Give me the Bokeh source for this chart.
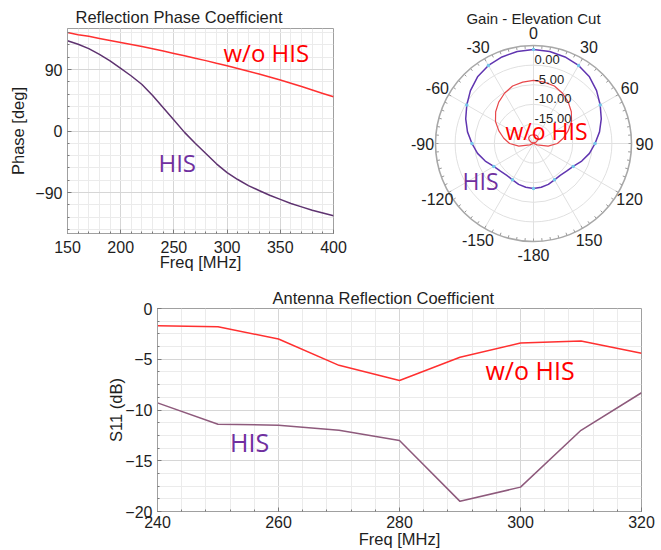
import numpy as np
from bokeh.plotting import figure
from bokeh.models import Range1d, SingleIntervalTicker, Label, ColumnDataSource
from bokeh.layouts import column, row
from bokeh.core.properties import value
from bokeh.embed import file_html
from bokeh.resources import INLINE

# ---------------- data ----------------
phase_freq = [150, 160, 170, 180, 190, 200, 210, 220, 230, 240, 250, 260, 270,
              280, 290, 300, 310, 320, 330, 340, 350, 360, 370, 380, 390, 400]
phase_wo_his = [144, 141, 138.5, 135.5, 132.5, 129.5, 126.5, 123.5, 120.5, 117,
                113.5, 110, 106.5, 103, 99, 95.5, 91.5, 87.5, 83.5, 79,
                74.5, 70, 65, 60, 55, 50]
phase_his = [132, 127, 120.5, 112, 102.5, 91.5, 80.5, 68, 52, 34,
             16, -2, -18, -33, -48, -61, -71, -80, -87, -94,
             -100, -106, -111, -116, -120, -124]

s11_freq = [240, 250, 260, 270, 280, 290, 300, 310, 320]
s11_wo_his = [-1.7, -1.8, -3.0, -5.6, -7.1, -4.8, -3.4, -3.2, -4.4]
s11_his = [-9.3, -11.4, -11.5, -12.0, -13.0, -19.0, -17.6, -12.0, -8.3]

gain_angle = [-180, -170, -160, -150, -140, -130, -120, -110, -100, -90, -80, -70,
              -60, -50, -40, -30, -20, -10, 0, 10, 20, 30, 40, 50, 60, 70, 80, 90,
              100, 110, 120, 130, 140, 150, 160, 170, 180]
gain_his = [-8.5, -8.65, -8.9, -9.3, -9.4, -9.0, -8.3, -6.9, -5.5, -4.3, -2.9, -1.6,
            -0.35, 1.0, 2.2, 3.0, 3.5, 3.85, 4.0, 3.85, 3.5, 3.0, 2.2, 1.0, -0.35,
            -1.6, -2.9, -4.3, -5.5, -6.9, -8.3, -9.0, -9.4, -9.3, -8.9, -8.65, -8.5]
gain_wo_his = [-22.2, -22.2, -22.2, -22.1, -21.9, -21.5, -20.8, -19.0, -16.2, -13.9,
               -12.3, -10.6, -8.8, -7.4, -6.2, -5.2, -4.4, -4.1, -3.9, -4.1, -4.4,
               -5.2, -6.2, -7.4, -8.8, -10.6, -12.3, -13.9, -16.2, -19.0, -20.8,
               -21.5, -21.9, -22.1, -22.2, -22.2, -22.2]
gain_marker_angle = [-180, -150, -120, -90, -60, -30, 0, 30, 60, 90, 120, 150]
gain_marker_his = [-8.5, -9.3, -8.3, -4.3, -0.35, 3.0, 4.0, 3.0, -0.35, -4.3, -8.3, -9.3]
polar_floor = -20.0
polar_top = 5.0
polar_rings = [-15, -10, -5, 0]
polar_ring_labels = ["-15.00", "-10.00", "-5.00", "0.00"]
polar_angle_ticks = [0, 30, 60, 90, 120, 150, 180, -150, -120, -90, -60, -30]
polar_angle_labels = ["0", "30", "60", "90", "120", "150", "-180", "-150", "-120",
                      "-90", "-60", "-30"]

# ---------------- styles ----------------
AX_FONT = "Liberation Sans"
AN_FONT = "Open Sans"
TXT = "#1e1e1e"
RED_LINE = "#ff3030"
RED_TXT = "#ff0000"
PURPLE_TXT = "#7030a0"
GRID = "#d6d6d6"
MINOR = "#ebebeb"
FRAME = "#a0a0a0"


def style_axes(p, xint, xminor, yint, yminor, title, title_offset, title_standoff,
               xlabel, ylabel, x_standoff, xlabel_standoff, ylabel_standoff):
    xt = SingleIntervalTicker(interval=xint, num_minor_ticks=xminor)
    yt = SingleIntervalTicker(interval=yint, num_minor_ticks=yminor)
    p.xaxis.ticker = xt
    p.yaxis.ticker = yt
    p.xgrid.ticker = xt
    p.ygrid.ticker = yt
    for ax in (p.xaxis, p.yaxis):
        ax.axis_line_color = FRAME
        ax.major_tick_in = 4
        ax.major_tick_out = 0
        ax.minor_tick_in = 2
        ax.minor_tick_out = 0
        ax.major_tick_line_color = "#7a7a7a"
        ax.minor_tick_line_color = "#7a7a7a"
        ax.major_label_text_font = AX_FONT
        ax.major_label_text_font_size = "16px"
        ax.major_label_text_color = TXT
        ax.axis_label_text_font = AX_FONT
        ax.axis_label_text_font_size = "16.5px"
        ax.axis_label_text_font_style = "normal"
        ax.axis_label_text_color = TXT
    p.xaxis.major_label_standoff = x_standoff
    p.yaxis.major_label_standoff = 5
    p.xaxis.axis_label = xlabel
    p.yaxis.axis_label = ylabel
    p.xaxis.axis_label_standoff = xlabel_standoff
    p.yaxis.axis_label_standoff = ylabel_standoff
    p.grid.grid_line_color = GRID
    p.grid.minor_grid_line_color = MINOR
    p.outline_line_color = FRAME
    p.title.text = title
    p.title.align = "left"
    p.title.offset = title_offset
    p.title.standoff = title_standoff
    p.title.text_font = AX_FONT
    p.title.text_font_size = "16.5px"
    p.title.text_font_style = "normal"
    p.title.text_color = TXT


def txt(p, x, y, text, size, color=TXT, font=AX_FONT, align="left",
        baseline="middle"):
    p.add_layout(Label(x=x, y=y, text=text, text_font=font, text_font_size=size,
                       text_color=color, text_align=align, text_baseline=baseline))


# ---------------- chart 1: reflection phase ----------------
p1 = figure(width=400, height=283, x_range=Range1d(150, 400), y_range=Range1d(-150, 150),
            output_backend="svg", toolbar_location=None, frame_align=False,
            min_border_left=67, min_border_right=67, min_border_top=28, min_border_bottom=50)
style_axes(p1, 50, 5, 90, 5, "Reflection Phase Coefficient", 8, 6,
           "Freq [MHz]", "Phase [deg]", 7, -3, 5)
p1.line(phase_freq, phase_wo_his, line_color=RED_LINE, line_width=1.5)
p1.line(phase_freq, phase_his, line_color="#5e3370", line_width=1.5)
txt(p1, 296.6, 115.6, "w/o HIS", "24px", color=RED_TXT, font=AN_FONT)
txt(p1, 235.5, -45.4, "HIS", "24px", color=PURPLE_TXT, font=AN_FONT)

# ---------------- chart 2: polar gain ----------------
U = 98.0 / (polar_top - polar_floor)      # pixels per dB
CX, CY, PW, PH = 133.0, 143.0, 261, 283
p2 = figure(width=PW, height=PH,
            x_range=Range1d(-CX / U, (PW - CX) / U), y_range=Range1d(-(PH - CY) / U, CY / U),
            output_backend="svg", toolbar_location=None, min_border=0, frame_align=False,
            x_axis_type=None, y_axis_type=None, outline_line_color=None)
p2.grid.visible = False
R = polar_top - polar_floor
ring_r = [v - polar_floor for v in polar_rings]
p2.circle(x=[0] * len(ring_r), y=[0] * len(ring_r), radius=ring_r,
          fill_color=None, line_color="#e0e0e0", line_width=1)
sp = np.deg2rad(np.arange(0, 360, 30))
p2.segment(x0=0, y0=0, x1=R * np.sin(sp), y1=R * np.cos(sp),
           line_color="#e0e0e0", line_width=1)
tk = np.deg2rad(np.arange(0, 360, 5))
tl = 3.0 / U
p2.segment(x0=R * np.sin(tk), y0=R * np.cos(tk), x1=(R - tl) * np.sin(tk),
           y1=(R - tl) * np.cos(tk), line_color="#9a9a9a", line_width=1)
p2.circle(x=[0], y=[0], radius=[R], fill_color=None, line_color="#a8a8a8", line_width=1.6)

ga = np.deg2rad(np.array(gain_angle, dtype=float))
r_his = np.array(gain_his) - polar_floor
r_wo = np.array(gain_wo_his) - polar_floor
p2.line(r_wo * np.sin(ga), r_wo * np.cos(ga), line_color="#e8474a", line_width=1.2)
p2.line(r_his * np.sin(ga), r_his * np.cos(ga), line_color="#6035b0", line_width=1.5)
ma = np.deg2rad(np.array(gain_marker_angle, dtype=float))
mr = np.array(gain_marker_his) - polar_floor
p2.scatter(mr * np.sin(ma), mr * np.cos(ma), size=3.5, color="#74c6ea", line_color=None)

rl = ColumnDataSource(dict(x=[1.0 / U] * len(ring_r), y=[r + 1.0 / U for r in ring_r],
                           t=polar_ring_labels))
p2.text(x="x", y="y", text="t", source=rl, text_font=value(AX_FONT),
        text_font_size="13px", text_align="left", text_baseline="bottom", text_color=TXT)
lr = 111.0 / U
aa = np.deg2rad(np.array(polar_angle_ticks, dtype=float))
al = ColumnDataSource(dict(x=lr * np.sin(aa), y=lr * np.cos(aa), t=polar_angle_labels))
p2.text(x="x", y="y", text="t", source=al, text_font=value(AX_FONT),
        text_font_size="16px", text_align="center", text_baseline="middle", text_color=TXT)
txt(p2, 0, (CY - 17.5) / U, "Gain - Elevation Cut", "15px", align="center",
    baseline="alphabetic")
txt(p2, -28 / U, 13 / U, "w/o HIS", "23px", color=RED_TXT, font=AN_FONT)
txt(p2, -71 / U, -37 / U, "HIS", "23px", color=PURPLE_TXT, font=AN_FONT)

# ---------------- chart 3: antenna reflection coefficient ----------------
p3 = figure(width=661, height=267, x_range=Range1d(240, 320), y_range=Range1d(-20, 0),
            output_backend="svg", toolbar_location=None, frame_align=False,
            min_border_left=157, min_border_right=20, min_border_top=25, min_border_bottom=37)
style_axes(p3, 20, 5, 5, 4, "Antenna Reflection Coefficient", 115, 4,
           "Freq [MHz]", "S11 (dB)", 4, -1, -3)
p3.line(s11_freq, s11_wo_his, line_color=RED_LINE, line_width=1.5)
p3.line(s11_freq, s11_his, line_color="#8e5a7c", line_width=1.5)
txt(p3, 294.2, -6.05, "w/o HIS", "25px", color=RED_TXT, font=AN_FONT)
txt(p3, 252.0, -13.2, "HIS", "25px", color=PURPLE_TXT, font=AN_FONT)

layout = column(row(p1, p2), p3)
open("out.html", "w").write(file_html(layout, INLINE))
